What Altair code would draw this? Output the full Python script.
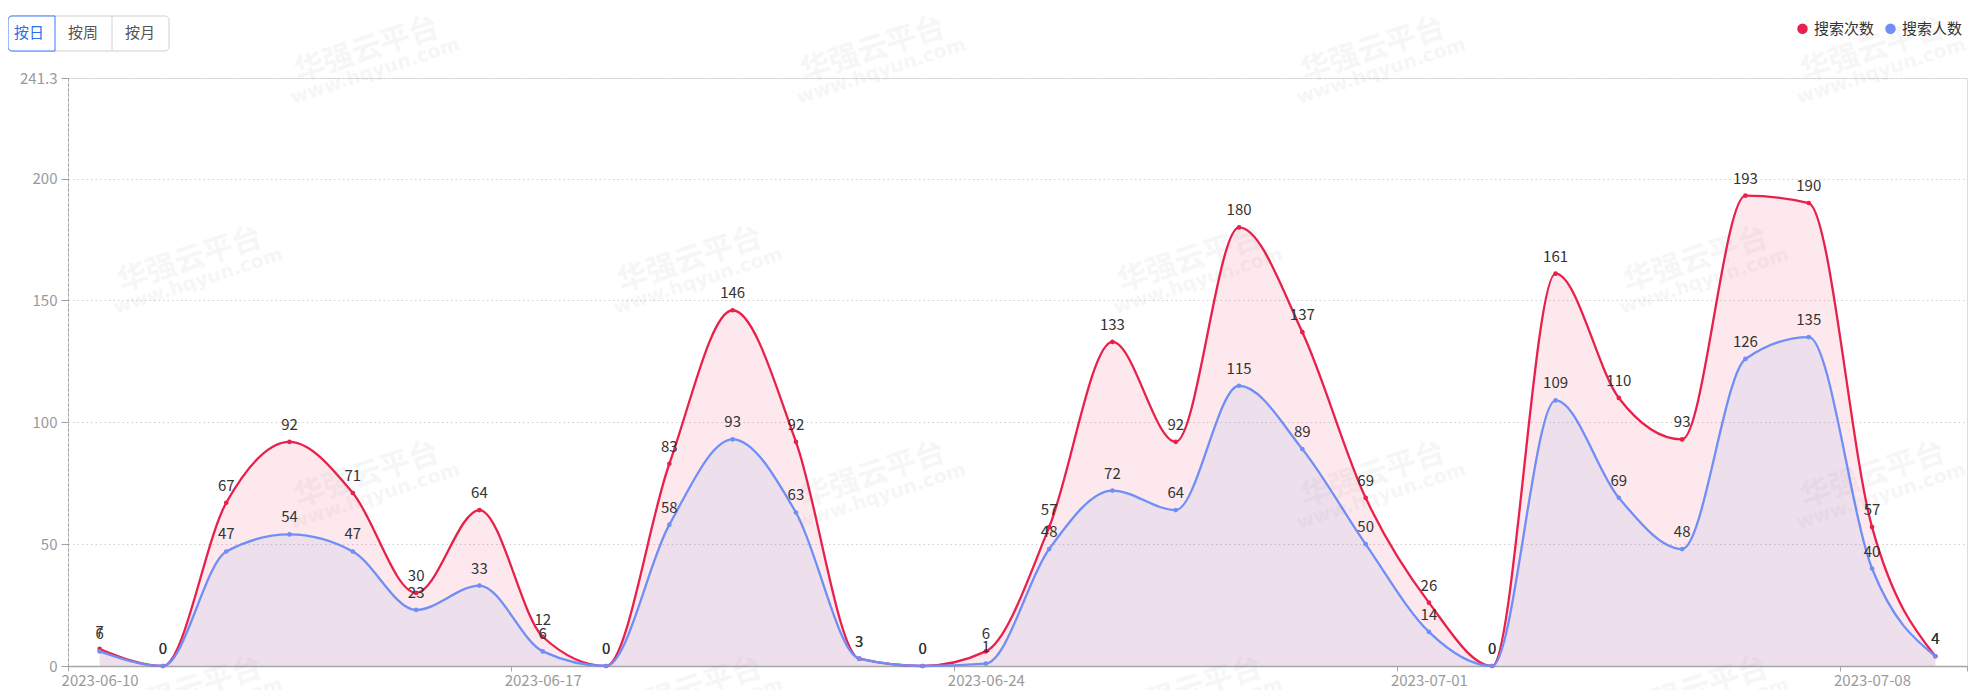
import altair as alt
import pandas as pd

# ---------------- data ----------------
dates = [
    "2023-06-10", "2023-06-11", "2023-06-12", "2023-06-13", "2023-06-14",
    "2023-06-15", "2023-06-16", "2023-06-17", "2023-06-18", "2023-06-19",
    "2023-06-20", "2023-06-21", "2023-06-22", "2023-06-23", "2023-06-24",
    "2023-06-25", "2023-06-26", "2023-06-27", "2023-06-28", "2023-06-29",
    "2023-06-30", "2023-07-01", "2023-07-02", "2023-07-03", "2023-07-04",
    "2023-07-05", "2023-07-06", "2023-07-07", "2023-07-08", "2023-07-09",
]
search_count = [7, 0, 67, 92, 71, 30, 64, 12, 0, 83, 146, 92, 3, 0, 6,
                57, 133, 92, 180, 137, 69, 26, 0, 161, 110, 93, 193, 190, 57, 4]
search_users = [6, 0, 47, 54, 47, 23, 33, 6, 0, 58, 93, 63, 3, 0, 1,
                48, 72, 64, 115, 89, 50, 14, 0, 109, 69, 48, 126, 135, 40, 4]
series_names = ["搜索次数", "搜索人数"]
tick_labels = ["2023-06-10", "2023-06-17", "2023-06-24", "2023-07-01", "2023-07-08"]
y_ticks = [0, 50, 100, 150, 200, 241.3]
y_max = 241.3
buttons = ["按日", "按周", "按月"]
wm_title = "华强云平台"
wm_url = "www.hqyun.com"

RED = "#E8204B"
BLUE = "#6F8FF7"
FONT = "Noto Sans CJK SC"

rows = []
for name, vals in zip(series_names, [search_count, search_users]):
    for i, (d, v) in enumerate(zip(dates, vals)):
        rows.append({"date": d, "pos": i + 0.5, "value": v, "series": name})
df = pd.DataFrame(rows)

n_days = len(dates)
tick_vals = [dates.index(t) for t in tick_labels] + [n_days]
label_lookup = "[" + ",".join("'%s'" % t for t in tick_labels) + "]"

x_enc = alt.X(
    "pos:Q",
    scale=alt.Scale(domain=[0, n_days], nice=False, zero=False),
    axis=alt.Axis(
        values=tick_vals,
        labelExpr=f"datum.value >= {n_days} ? '' : {label_lookup}[floor(datum.value / 7)]",
        title=None, grid=False, tickSize=5, tickColor="#a6a6a6",
        domainColor="#a6a6a6", domainWidth=1.3, labelOffset=31.6,
        labelFlush=False, labelOverlap=False, labelPadding=2,
        labelColor="#9a9a9a", labelFontSize=15, labelFont=FONT,
    ),
)
y_enc = alt.Y(
    "value:Q",
    scale=alt.Scale(domain=[0, y_max], nice=False, zero=True),
    axis=alt.Axis(
        values=y_ticks, labelExpr="'' + datum.value", title=None,
        grid=True, gridDash=[1.5, 3], gridColor="#cfcfcf", gridWidth=1,
        domainDash=[3, 2], domainColor="#a0a0a0", tickColor="#a0a0a0",
        tickSize=7, labelPadding=4, labelColor="#9a9a9a", labelFontSize=15,
        labelFont=FONT, labelFlush=False,
    ),
)

base = alt.Chart(df)

layers = []
# areas
for name, col in zip(series_names, [RED, BLUE]):
    layers.append(
        base.transform_filter(alt.datum.series == name)
        .mark_area(color=col, opacity=0.1, interpolate="monotone")
        .encode(x=x_enc, y=y_enc)
    )
# lines
for name, col in zip(series_names, [RED, BLUE]):
    layers.append(
        base.transform_filter(alt.datum.series == name)
        .mark_line(color=col, strokeWidth=2.3, interpolate="monotone")
        .encode(x=x_enc, y=y_enc)
    )
# points (drive legend)
layers.append(
    base.mark_point(filled=True, size=22, opacity=1).encode(
        x=x_enc, y=y_enc,
        color=alt.Color(
            "series:N",
            scale=alt.Scale(domain=series_names, range=[RED, BLUE]),
            legend=alt.Legend(
                orient="none", legendX=1727, legendY=-57, direction="horizontal",
                title=None, symbolType="circle", symbolSize=110,
                symbolStrokeWidth=0, labelFontSize=15, labelColor="#333333",
                labelFont=FONT, labelOffset=4, columnPadding=8, padding=0,
            ),
        ),
    )
)
# value labels
layers.append(
    base.mark_text(dy=-17, baseline="middle", fontSize=15, color="#333333", font=FONT)
    .encode(x=x_enc, y=y_enc, text="value:Q", detail="series:N")
)

one = pd.DataFrame({"k": [0]})

# watermark
wm_centers = [
    (367, 50), (873, 50), (1373, 50), (1873, 50),
    (190, 260), (690, 260), (1190, 260), (1696, 260),
    (367, 475), (873, 475), (1373, 475), (1873, 475),
    (190, 690), (690, 690), (1190, 690), (1696, 690),
]
for cx, cy in wm_centers:
    rx, ry = cx - 68, cy - 78
    layers.append(
        alt.Chart(one).mark_text(angle=342, fontSize=30, fontWeight="bold",
                                 color="#777777", opacity=0.06, font=FONT,
                                 align="center", baseline="middle")
        .encode(x=alt.value(rx), y=alt.value(ry), text=alt.value(wm_title))
    )
    layers.append(
        alt.Chart(one).mark_text(angle=342, fontSize=19, fontWeight="bold",
                                 color="#777777", opacity=0.06, font="DejaVu Sans",
                                 align="center", baseline="middle")
        .encode(x=alt.value(rx + 8), y=alt.value(ry + 21), text=alt.value(wm_url))
    )

# buttons (segmented control)
layers.append(
    alt.Chart(one).mark_rect(fill="white", stroke="#d0d0d0", strokeWidth=1, cornerRadius=4)
    .encode(x=alt.value(-60), x2=alt.value(101), y=alt.value(-62), y2=alt.value(-27))
)
layers.append(
    alt.Chart(one).mark_rule(color="#d0d0d0", strokeWidth=1)
    .encode(x=alt.value(44), y=alt.value(-62), y2=alt.value(-27))
)
layers.append(
    alt.Chart(one).mark_rect(fill="white", stroke="#3A78F2", strokeWidth=1,
                             cornerRadiusTopLeft=4, cornerRadiusBottomLeft=4)
    .encode(x=alt.value(-60), x2=alt.value(-13), y=alt.value(-62), y2=alt.value(-27))
)
for label, cxb, col in zip(buttons, [-39, 15, 72], ["#2E6FEA", "#555555", "#555555"]):
    layers.append(
        alt.Chart(one).mark_text(fontSize=15, color=col, font=FONT,
                                 align="center", baseline="middle")
        .encode(x=alt.value(cxb), y=alt.value(-45), text=alt.value(label))
    )

chart = (
    alt.layer(*layers)
    .properties(
        width=1899, height=588,
        padding={"left": 60, "top": 70, "right": 8, "bottom": 24},
        autosize=alt.AutoSizeParams(type="none"),
    )
    .configure_view(strokeWidth=0)
    .configure(font=FONT)
)

chart.save("out.html", embed_options={"renderer": "svg", "actions": False})
